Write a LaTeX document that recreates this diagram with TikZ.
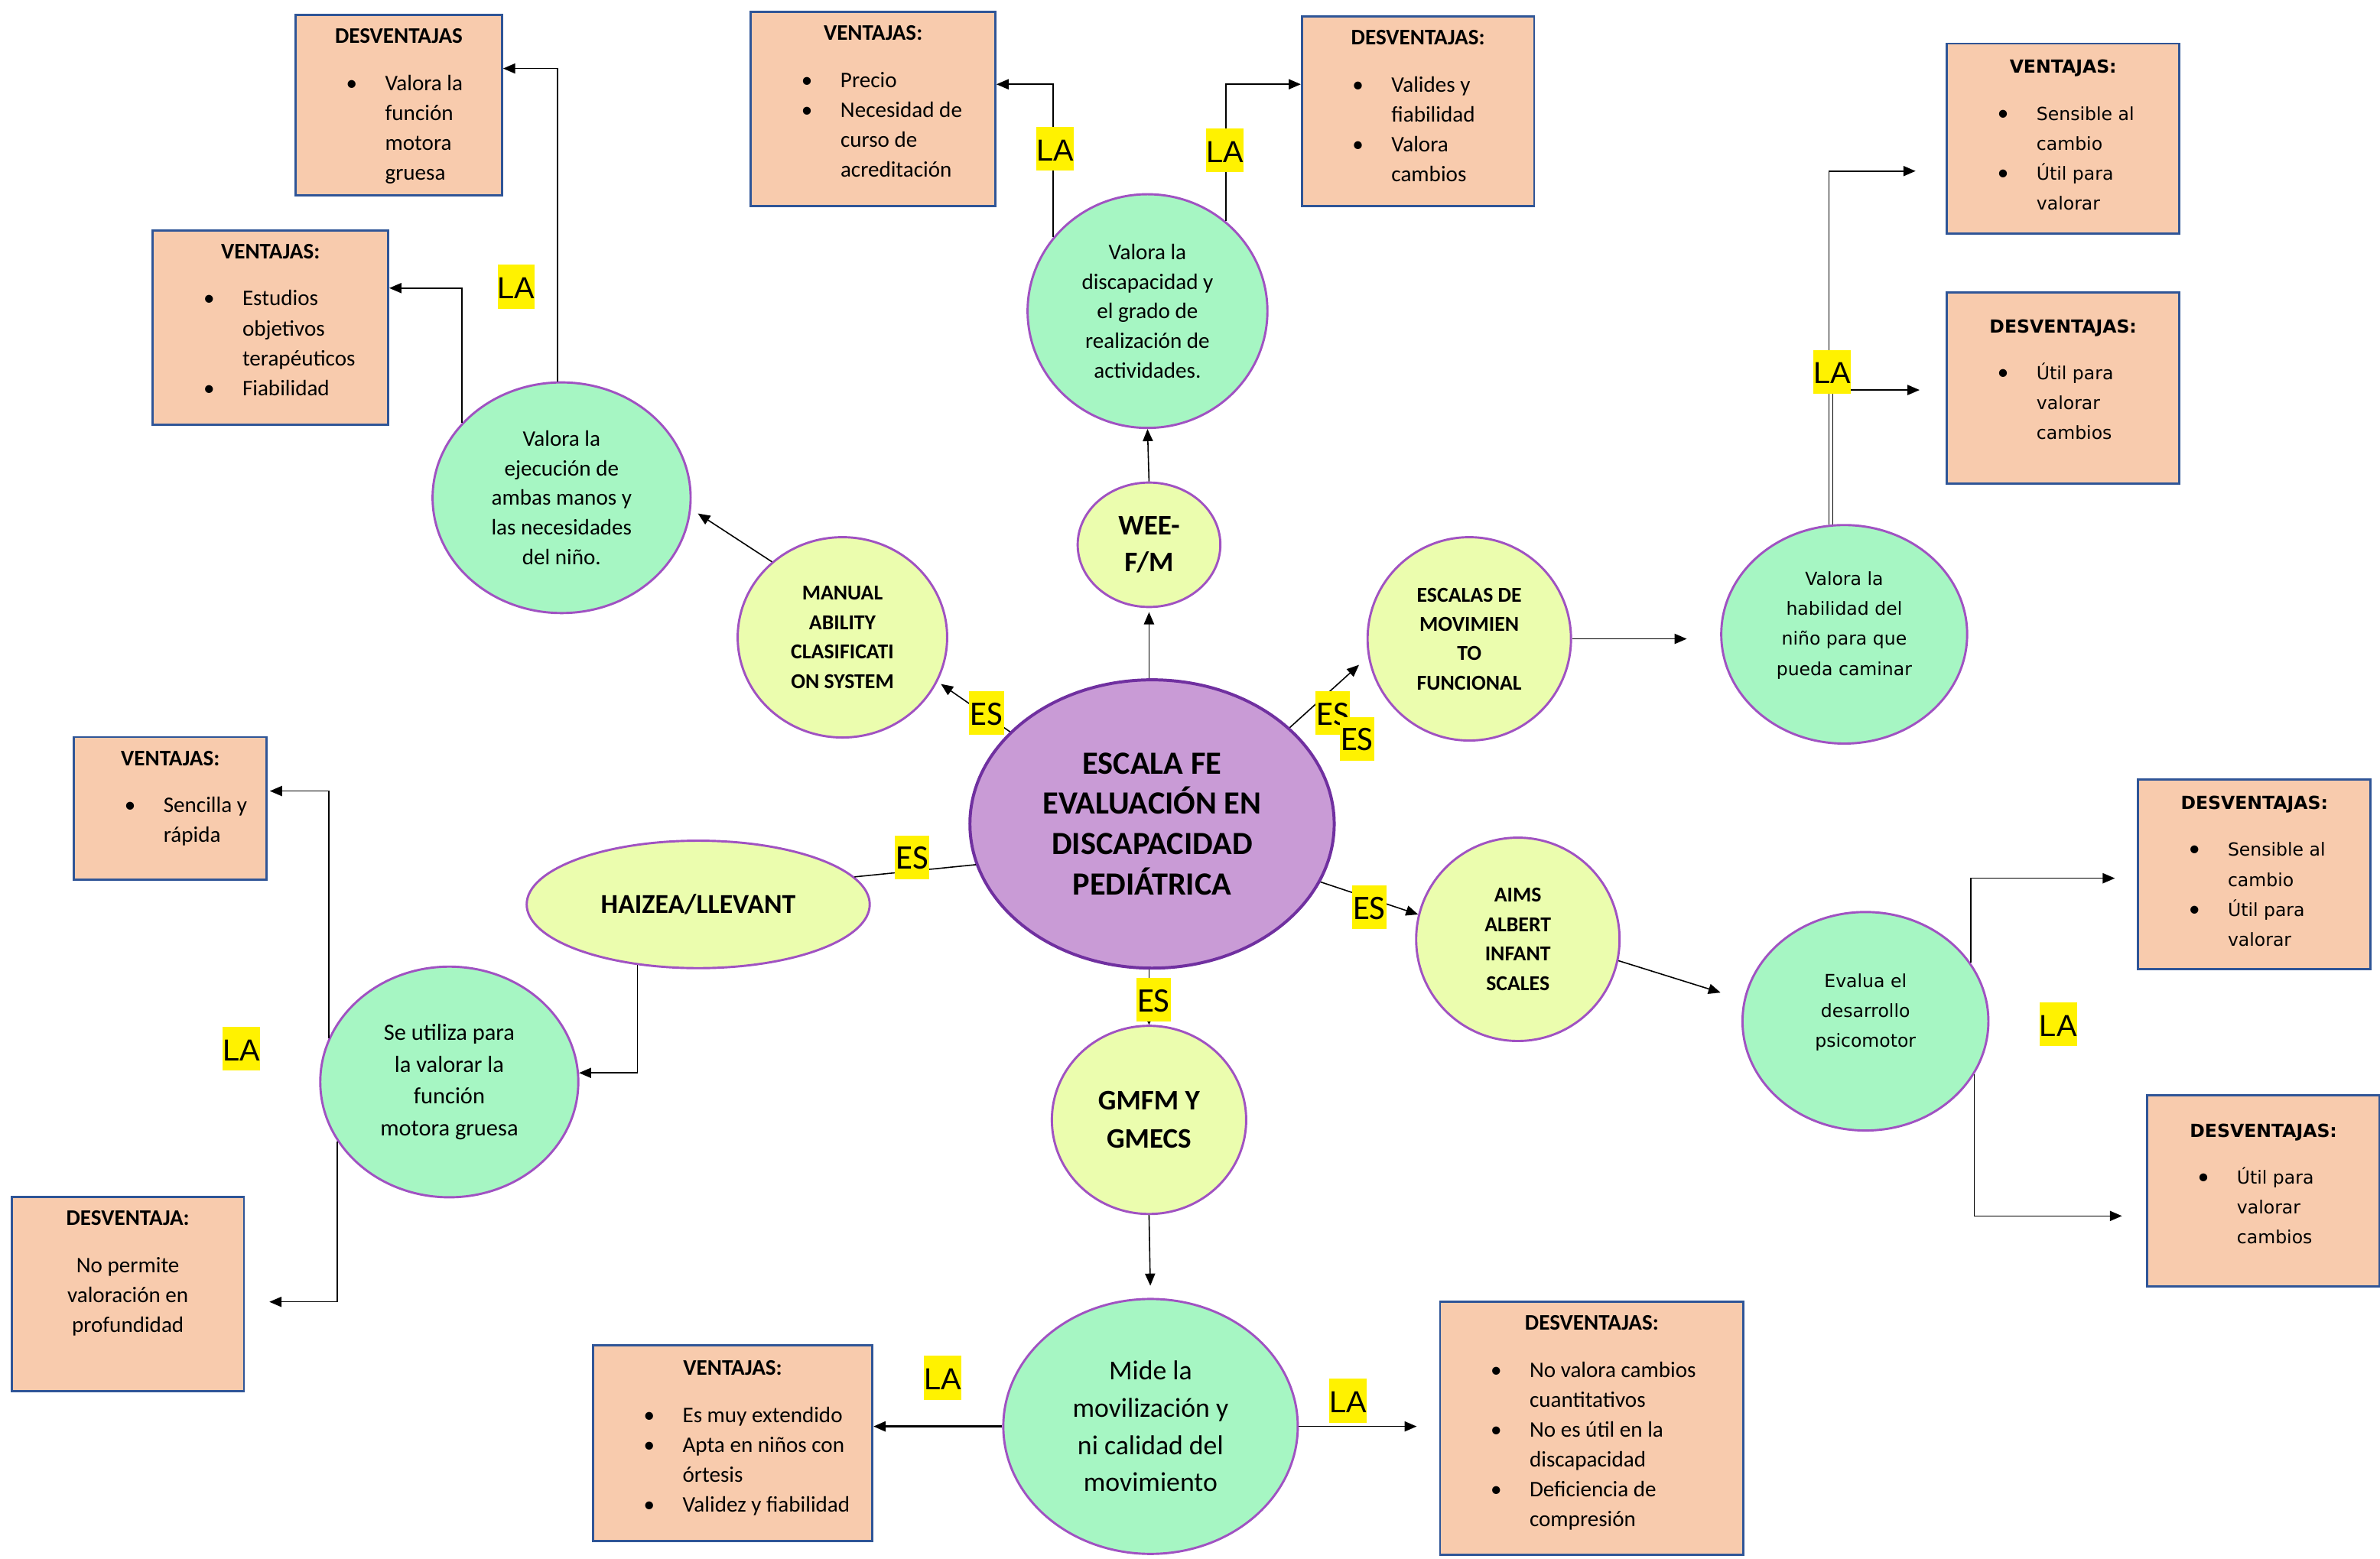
\documentclass[tikz,border=0pt]{standalone}
\usepackage{fontspec}
\setmainfont{Carlito}
\newfontfamily\sansancha{DejaVu Sans}
\newfontfamily\bulfont{Carlito}
\newfontfamily\arialfont{Liberation Sans}
\usepackage{tikz}
\usetikzlibrary{positioning, arrows.meta, shapes.geometric, calc}

\definecolor{cajafondo}{HTML}{F8CBAD}
\definecolor{cajaborde}{HTML}{2F5597}
\definecolor{verde}{HTML}{A6F6C3}
\definecolor{amarillo}{HTML}{EBFDAE}
\definecolor{morado}{HTML}{C99BD6}
\definecolor{moradoborde}{HTML}{7030A0}
\definecolor{lila}{HTML}{A052C2}

% box content: #1 width, #2 height, #3 top gap, #4 body
\newcommand{\cajatexto}[4]{\parbox[c][#2][t]{#1}{\vspace*{#3}#4}}
\newcommand{\titulo}[1]{{\centering\bfseries\strut#1\par}\vspace{8.45pt}\raggedright\leftskip=44.25pt\relax}
\newcommand{\bul}[1]{\par\noindent\llap{{\bulfont\fontsize{11}{14.8}\selectfont\textbullet}\hspace{13.8pt}}#1}

\begin{document}
\begin{tikzpicture}[x=0.75pt,y=0.75pt,yscale=-1,xscale=1,
  caja/.style={draw=cajaborde, line width=1.1pt, fill=cajafondo, inner sep=0pt,
               anchor=north west, font=\fontsize{11}{14.8}\selectfont},
  cajaos/.style={caja, font=\sansancha\fontsize{8.9}{14.8}\selectfont},
  verdenodo/.style={ellipse, draw=lila, line width=1.1pt, fill=verde, inner sep=0pt,
                    align=center, font=\fontsize{11}{14.6}\selectfont},
  amarillonodo/.style={ellipse, draw=lila, line width=1.1pt, fill=amarillo, inner sep=0pt,
                       align=center, font=\bfseries\fontsize{10.5}{14.5}\selectfont},
  flecha/.style={-{Triangle[length=6pt,width=5pt]}, line width=0.6pt},
  linea/.style={line width=0.6pt},
  etiqla/.style={fill=yellow, inner xsep=0pt, inner ysep=0pt, text height=16.8pt,
                 text depth=4.9pt, font=\arialfont\fontsize{15}{18}\selectfont},
  etiqes/.style={fill=yellow, inner xsep=0.6pt, inner ysep=0pt, text height=16.5pt,
                 text depth=5pt, font=\fontsize{17}{20}\selectfont}]
\path[use as bounding box, fill=white] (0,0) rectangle (1568,1027);

%Shape: Ellipse central
\node[ellipse, draw=moradoborde, line width=1.5pt, fill=morado, inner sep=0pt,
      minimum width=180pt, minimum height=142.5pt, align=center,
      font=\bfseries\fontsize{16}{20}\selectfont] (c) at (759,543)
      {ESCALA FE\\EVALUACIÓN EN\\DISCAPACIDAD\\PEDIÁTRICA};

%Shape: Ellipse escalas
\node[amarillonodo, minimum width=103.5pt, minimum height=99pt] (y1) at (555,420)
      {MANUAL\\ABILITY\\CLASIFICATI\\ON SYSTEM};
\node[amarillonodo, minimum width=70.5pt, minimum height=61.5pt,
      font=\bfseries\fontsize{14}{18}\selectfont] (y2) at (757,359) {WEE-\\F/M};
\node[amarillonodo, minimum width=100.5pt, minimum height=100.5pt] (y3) at (968,421)
      {ESCALAS DE\\MOVIMIEN\\TO\\FUNCIONAL};
\node[amarillonodo, minimum width=100.5pt, minimum height=100.5pt] (y4) at (1000,619)
      {AIMS\\ALBERT\\INFANT\\SCALES};
\node[amarillonodo, minimum width=96pt, minimum height=93pt,
      font=\bfseries\fontsize{14}{18.75}\selectfont] (y5) at (757,738) {GMFM Y\\GMECS};
\node[amarillonodo, minimum width=169.5pt, minimum height=63pt,
      font=\bfseries\fontsize{13.5}{16}\selectfont] (y6) at (460,596) {HAIZEA/LLEVANT};

%Shape: Ellipse descripciones
\node[verdenodo, minimum width=127.5pt, minimum height=114pt] (g1) at (370,328)
      {Valora la\\ejecución de\\ambas manos y\\las necesidades\\del niño.};
\node[verdenodo, minimum width=118.5pt, minimum height=115.5pt] (g2) at (756,205)
      {Valora la\\discapacidad y\\el grado de\\realización de\\actividades.};
\node[verdenodo, minimum width=121.5pt, minimum height=108pt,
      font=\sansancha\fontsize{8.9}{14.8}\selectfont] (g3) at (1215,418)
      {Valora la\\habilidad del\\niño para que\\pueda caminar\\[-4pt]};
\node[verdenodo, minimum width=121.5pt, minimum height=108pt,
      font=\sansancha\fontsize{8.9}{14.8}\selectfont] (g4) at (1229,673)
      {Evalua el\\desarrollo\\psicomotor\\[-4pt]};
\node[verdenodo, minimum width=127.5pt, minimum height=114pt,
      font=\fontsize{11.5}{15.8}\selectfont] (g5) at (296,713)
      {Se utiliza para\\la valorar la\\función\\motora gruesa};
\node[verdenodo, minimum width=145.5pt, minimum height=126pt,
      font=\fontsize{13.5}{18.4}\selectfont] (g6) at (758,940)
      {Mide la\\movilización y\\ni calidad del\\movimiento};

%Shape: Rectangle ventajas / desventajas
\node[caja] (d1) at (194,9) {\cajatexto{102pt}{89.25pt}{3.7pt}{%
  \titulo{DESVENTAJAS}
  \bul{Valora la\newline función\newline motora\newline gruesa}}};
\node[caja] (v2) at (100,151) {\cajatexto{116.25pt}{96pt}{3.7pt}{%
  \titulo{VENTAJAS:}
  \bul{Estudios\newline objetivos\newline terapéuticos}
  \bul{Fiabilidad}}};
\node[caja] (v3) at (494,7) {\cajatexto{120.75pt}{96pt}{3.7pt}{%
  \titulo{VENTAJAS:}
  \bul{Precio}
  \bul{Necesidad de\newline curso de\newline acreditación}}};
\node[caja] (d4) at (857,10) {\cajatexto{114.75pt}{93.75pt}{3.7pt}{%
  \titulo{DESVENTAJAS:}
  \bul{Valides y\newline fiabilidad}
  \bul{Valora\newline cambios}}};
\node[cajaos] (v5) at (1282,28) {\cajatexto{114.75pt}{93.75pt}{4.3pt}{%
  \titulo{VENTAJAS:}
  \bul{Sensible al\newline cambio}
  \bul{Útil para\newline valorar}}};
\node[cajaos] (d6) at (1282,192) {\cajatexto{114.75pt}{94.5pt}{9.5pt}{%
  \titulo{DESVENTAJAS:}
  \bul{Útil para\newline valorar\newline cambios}}};
\node[cajaos] (d7) at (1408,513) {\cajatexto{114.75pt}{93.75pt}{4.3pt}{%
  \titulo{DESVENTAJAS:}
  \bul{Sensible al\newline cambio}
  \bul{Útil para\newline valorar}}};
\node[cajaos] (d8) at (1414,721) {\cajatexto{114.75pt}{94.5pt}{10.3pt}{%
  \titulo{DESVENTAJAS:}
  \bul{Útil para\newline valorar\newline cambios}}};
\node[caja] (v9) at (48,485) {\cajatexto{95.25pt}{70.5pt}{3.7pt}{%
  \titulo{VENTAJAS:}
  \bul{Sencilla y\newline rápida}}};
\node[caja] (d10) at (7,788) {\cajatexto{114.75pt}{96pt}{3.7pt}{%
  \titulo{DESVENTAJA:}
  {\centering No permite\\valoración en\\profundidad\par}}};
\node[caja] (v11) at (390,886) {\cajatexto{138pt}{96.75pt}{4.4pt}{%
  \titulo{VENTAJAS:}
  \bul{Es muy extendido}
  \bul{Apta en niños con\newline órtesis}
  \bul{Validez y fiabilidad}}};
\node[caja] (d12) at (948,857) {\cajatexto{150pt}{125.25pt}{3.7pt}{%
  \titulo{DESVENTAJAS:}
  \bul{No valora cambios\newline cuantitativos}
  \bul{No es útil en la\newline discapacidad}
  \bul{Deficiencia de\newline compresión}}};

%Straight Lines centro -> escalas
\draw[flecha, shorten >=2pt] (c.147) -- (y1.-25);
\draw[flecha, shorten >=2pt] (c.north -| y2.south) -- (y2.south);
\draw[flecha, shorten >=6pt] (c.35) -- (y3.190);
\draw[flecha] (c.-19) -- (y4.166);
\draw[linea] (c.193) -- (y6.10);
\draw[-{Triangle[length=3pt,width=3pt]}, linea] (c.south -| y5.north) -- (y5.north);

%Straight Lines escalas -> descripciones
\draw[flecha, shorten >=4pt] (y1.133) -- (g1.-5);
\draw[flecha] (y2.north) -- (g2.south);
\draw[flecha, shorten >=16.5pt] (y3.east) -- (y3.east -| g3.west);
\draw[flecha, shorten >=12pt] (y4.-12) -- (g4.170);
\draw[flecha, shorten >=6pt] (y5.south) -- (g6.north);
\draw[flecha] (y6.225) |- (g5.4);

%Straight Lines descripciones -> cajas
\draw[flecha] (g1.143) |- ($(v2.north east)!0.3!(v2.south east)$);
\draw[flecha] (g1.92) |- ($(d1.north east)!0.3!(d1.south east)$);
\draw[flecha] (g2.142) |- ($(v3.north east)!0.375!(v3.south east)$);
\draw[flecha] (g2.49) |- ($(d4.north west)!0.36!(d4.south west)$);
\draw[flecha, shorten >=15pt] (g3.98) |- ($(v5.north west)!0.67!(v5.south west)$);
\draw[flecha, shorten >=13pt] (g3.96) |- ($(d6.north west)!0.51!(d6.south west)$);
\draw[flecha, shorten >=11pt] (g4.29) |- ($(d7.north west)!0.52!(d7.south west)$);
\draw[flecha, shorten >=12pt] (g4.-26) |- ($(d8.north west)!0.63!(d8.south west)$);
\draw[flecha, shorten >=1pt] (g5.160) |- ($(v9.north east)!0.38!(v9.south east)$);
\draw[flecha, shorten >=12pt] (g5.208) |- ($(d10.north east)!0.54!(d10.south east)$);
\draw[flecha, line width=0.9pt] (g6.west) -- (g6.west -| v11.east);
\draw[flecha, shorten >=11pt] (g6.east) -- (g6.east -| d12.west);

% Text Node etiquetas
\node[etiqla] (la1) at (340,189) {LA};
\node[etiqla] (la2) at (695,98) {LA};
\node[etiqla] (la3) at (807,99) {LA};
\node[etiqla] (la4) at (1207,245) {LA};
\node[etiqla] (la5) at (1356,675) {LA};
\node[etiqla] (la6) at (159,691) {LA};
\node[etiqla] (la7) at (621,908) {LA};
\node[etiqla] (la8) at (888,923) {LA};
\node[etiqes] (es1) at (650,470) {ES};
\node[etiqes] (es2) at (878,470) {ES};
\node[etiqes] (es3) at (894,487) {ES};
\node[etiqes] (es4) at (902,598) {ES};
\node[etiqes] (es5) at (601,565) {ES};
\node[etiqes] (es6) at (760,659) {ES};

\end{tikzpicture}
\end{document}
